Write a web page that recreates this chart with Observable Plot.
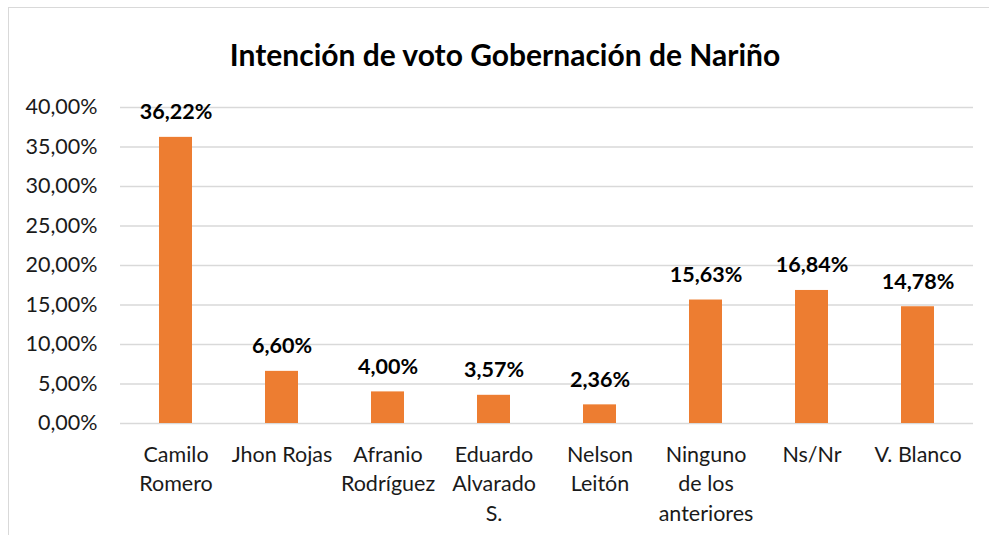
<!DOCTYPE html>
<html>
<head>
<meta charset="utf-8">
<script src="https://cdn.jsdelivr.net/npm/d3@7"></script>
<script src="https://cdn.jsdelivr.net/npm/@observablehq/plot@0.6"></script>
<style>
  html, body { margin: 0; padding: 0; background: #fff; }
  #wrap { position: relative; width: 989px; height: 535px; overflow: hidden; font-family: Lato, "Open Sans", sans-serif; }
  #frame { position: absolute; left: 8px; top: 7px; width: 1000px; height: 600px; border: 1.5px solid #d9d9d9; box-sizing: border-box; }
  #title { position: absolute; left: 0; top: 0; width: 1010px; height: 90px; line-height: 108px; text-align: center; font-weight: bold; font-size: 30px; color: #000; }
  #chart { position: absolute; left: 0; top: 90px; }
</style>
</head>
<body>
<div id="wrap">
  <div id="frame"></div>
  <div id="title">Intención de voto Gobernación de Nariño</div>
  <div id="chart"></div>
</div>
<script>
const categories = ["Camilo Romero", "Jhon Rojas", "Afranio Rodríguez", "Eduardo Alvarado S.", "Nelson Leitón", "Ninguno de los anteriores", "Ns/Nr", "V. Blanco"];
const categoryLabels = ["Camilo\nRomero", "Jhon Rojas", "Afranio\nRodríguez", "Eduardo\nAlvarado\nS.", "Nelson\nLeitón", "Ninguno\nde los\nanteriores", "Ns/Nr", "V. Blanco"];
const values = [36.22, 6.60, 4.00, 3.57, 2.36, 15.63, 16.84, 14.78];
const yTicks = [0, 5, 10, 15, 20, 25, 30, 35, 40];

const data = categories.map((c, i) => ({cat: c, label: categoryLabels[i], value: values[i]}));
const fmt = v => v.toFixed(2).replace(".", ",") + "%";
const labelOf = new Map(data.map(d => [d.cat, d.label]));

const chart = Plot.plot({
  width: 989,
  height: 445,
  marginTop: 17,
  marginBottom: 112,
  marginLeft: 120,
  marginRight: 16,
  style: {fontFamily: "Lato, 'Open Sans', sans-serif", fontSize: "21px", color: "#1a1a1a", background: "transparent"},
  x: {domain: categories, paddingInner: 0.69, paddingOuter: 0.345, label: null},
  y: {domain: [0, 40], label: null},
  marks: [
    Plot.gridY(yTicks, {stroke: "#d9d9d9", strokeOpacity: 1, strokeWidth: 1.5}),
    Plot.axisY(yTicks, {tickSize: 0, tickPadding: 23, tickFormat: fmt, fontSize: 21.5, label: null}),
    Plot.axisX({tickSize: 0, tickPadding: 17, tickFormat: c => labelOf.get(c), fontSize: 21.5, lineHeight: 1.38, label: null}),
    Plot.barY(data, {x: "cat", y: "value", fill: "#ED7D31"}),
    Plot.text(data, {x: "cat", y: "value", text: d => fmt(d.value), lineAnchor: "bottom", dy: -18, fontWeight: "bold", fontSize: 21.5, fill: "#000"})
  ]
});
document.getElementById("chart").appendChild(chart);
</script>
</body>
</html>
